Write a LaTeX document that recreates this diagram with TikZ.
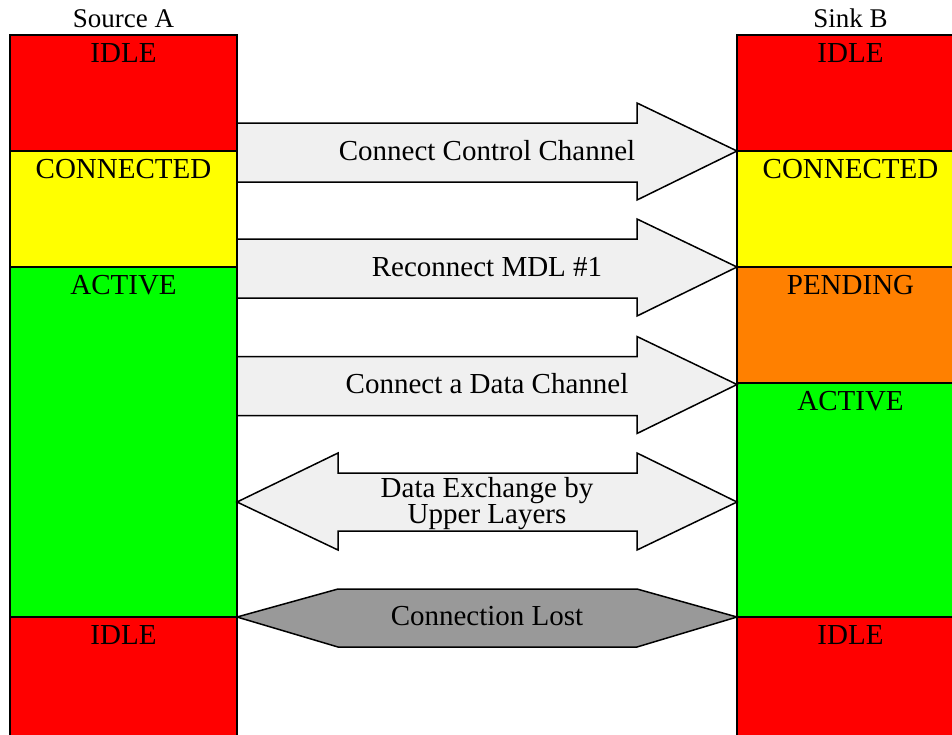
\documentclass[tikz,border=0pt]{standalone}
\usepackage{fontspec}
\setmainfont{Liberation Serif}
\usetikzlibrary{calc}
\definecolor{stIdle}{HTML}{FF0000}
\definecolor{stConn}{HTML}{FFFF00}
\definecolor{stActive}{HTML}{00FF00}
\definecolor{stPend}{HTML}{FF8000}
\definecolor{msgFill}{HTML}{F0F0F0}
\definecolor{lostFill}{HTML}{999999}
\tikzset{
  state/.style={draw=black, line width=1.6pt, rectangle, anchor=north west,
    minimum width=227pt, inner sep=0pt, outer sep=0pt},
  statelabel/.style={anchor=base, inner sep=0pt, font=\fontsize{29}{26}\selectfont},
  title/.style={anchor=base, inner sep=0pt, font=\fontsize{27}{26}\selectfont},
  msg/.style={draw=black, line width=1.5pt, line join=miter, fill=msgFill},
  lost/.style={draw=black, line width=1.5pt, line join=miter, fill=lostFill},
  msglabel/.style={anchor=base, inner sep=0pt, align=center,
    font=\fontsize{29}{26}\selectfont},
}
\begin{document}
\begin{tikzpicture}[x=1pt, y=-1pt]
\useasboundingbox (0,0) rectangle (952,734);
\clip (0,0) rectangle (952,734);

% column titles
\node[title] (srcTitle) at (123.5,27) {Source A};
\node[title] (snkTitle) at (850.5,27) {Sink B};

% Source A states
\node[state, fill=stIdle,   minimum height=116pt] (a1) at (10,35)  {};
\node[state, fill=stConn,   minimum height=116pt] (a2) at (10,151) {};
\node[state, fill=stActive, minimum height=350pt] (a3) at (10,267) {};
\node[state, fill=stIdle,   minimum height=140pt] (a4) at (10,617) {};
\node[statelabel] (a1t) at ($(a1.north)+(0,27)$) {IDLE};
\node[statelabel] (a2t) at ($(a2.north)+(0,27)$) {CONNECTED};
\node[statelabel] (a3t) at ($(a3.north)+(0,27)$) {ACTIVE};
\node[statelabel] (a4t) at ($(a4.north)+(0,27)$) {IDLE};

% Sink B states
\node[state, fill=stIdle,   minimum height=116pt] (b1) at (737,35)  {};
\node[state, fill=stConn,   minimum height=116pt] (b2) at (737,151) {};
\node[state, fill=stPend,   minimum height=116pt] (b3) at (737,267) {};
\node[state, fill=stActive, minimum height=234pt] (b4) at (737,383) {};
\node[state, fill=stIdle,   minimum height=140pt] (b5) at (737,617) {};
\node[statelabel] (b1t) at ($(b1.north)+(0,27)$) {IDLE};
\node[statelabel] (b2t) at ($(b2.north)+(0,27)$) {CONNECTED};
\node[statelabel] (b3t) at ($(b3.north)+(0,27)$) {PENDING};
\node[statelabel] (b4t) at ($(b4.north)+(0,27)$) {ACTIVE};
\node[statelabel] (b5t) at ($(b5.north)+(0,27)$) {IDLE};

% message tips on the sink side and tails on the source side
\coordinate (m1) at (b2.north west);
\coordinate (m2) at (b3.north west);
\coordinate (m3) at ($(b4.north west)+(0,1.5)$);
\coordinate (m4) at (737,502);
\coordinate (m5) at (b5.north west);
\coordinate (s1) at (a1.east |- m1);
\coordinate (s2) at (a2.east |- m2);
\coordinate (s3) at (a3.east |- m3);
\coordinate (s4) at (a3.east |- m4);
\coordinate (s5) at (a4.north east);

% one-way messages
\foreach \t/\s in {m1/s1, m2/s2, m3/s3}{
  \draw[msg] ($(\s)+(0,-28)$) -- ($(\t)+(-100,-28)$) -- ($(\t)+(-100,-48)$)
    -- (\t) -- ($(\t)+(-100,49)$) -- ($(\t)+(-100,31)$) -- ($(\s)+(0,31)$) -- cycle;
}
\node[msglabel] (l1) at ($(s1)!0.5!(m1)+(0,9)$) {Connect Control Channel};
\node[msglabel] (l2) at ($(s2)!0.5!(m2)+(0,9)$) {Reconnect MDL \#1};
\node[msglabel] (l3) at ($(s3)!0.5!(m3)+(0,9)$) {Connect a Data Channel};

% two-way message
\draw[msg] (s4) -- ($(s4)+(101,-49)$) -- ($(s4)+(101,-29)$) -- ($(m4)+(-100,-29)$)
  -- ($(m4)+(-100,-49)$) -- (m4) -- ($(m4)+(-100,48)$) -- ($(m4)+(-100,29)$)
  -- ($(s4)+(101,29)$) -- ($(s4)+(101,48)$) -- cycle;
\node[msglabel] (l4) at ($(s4)!0.5!(m4)+(0,21)$) {Data Exchange by\\Upper Layers};

% lost connection
\draw[lost] (s5) -- ($(s5)+(101,-28)$) -- ($(m5)+(-100,-28)$) -- (m5)
  -- ($(m5)+(-100,30)$) -- ($(s5)+(101,30)$) -- cycle;
\node[msglabel] (l5) at ($(s5)!0.5!(m5)+(0,8)$) {Connection Lost};
\end{tikzpicture}
\end{document}
